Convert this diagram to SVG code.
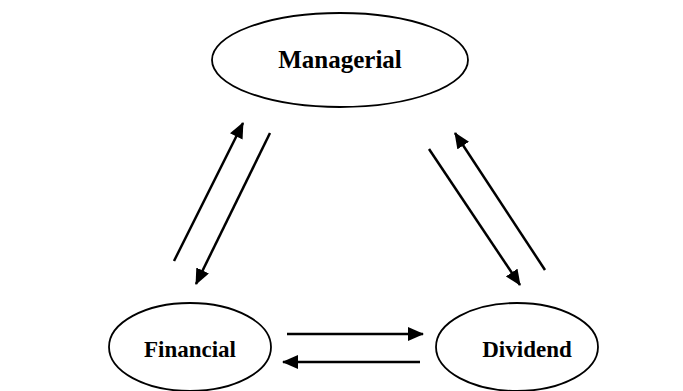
<svg xmlns="http://www.w3.org/2000/svg" width="683" height="391" viewBox="0 0 683 391">
<defs>
<marker id="ah" markerUnits="userSpaceOnUse" markerWidth="16" markerHeight="14" refX="15" refY="7" orient="auto">
<path d="M0,0 L16,7 L0,14 Z" fill="#000"/>
</marker>
<style>
.node ellipse{fill:#fff;stroke:#000;stroke-width:1.8}
.node text{font-family:"Liberation Serif","Times New Roman",serif;font-weight:bold;font-size:23px;text-anchor:middle;fill:#000}
.node text.big{font-size:25px}
.conn line{stroke:#000;stroke-width:2.5;marker-end:url(#ah)}
</style>
</defs>
<rect width="683" height="391" fill="#fff"/>
<g id="managerial" class="node">
<ellipse cx="340" cy="60" rx="128" ry="47"/>
<text class="big" x="340" y="68">Managerial</text>
</g>
<g id="financial" class="node">
<ellipse cx="190" cy="347" rx="81" ry="44"/>
<text x="190" y="357">Financial</text>
</g>
<g id="dividend" class="node">
<ellipse cx="517" cy="347" rx="81" ry="44"/>
<text x="527" y="357">Dividend</text>
</g>
<g id="connectors" class="conn">
<line x1="174" y1="261" x2="243" y2="123"/>
<line x1="270" y1="133" x2="196" y2="284"/>
<line x1="429" y1="149" x2="520" y2="285"/>
<line x1="545" y1="270" x2="455" y2="133"/>
<line x1="287" y1="334" x2="423" y2="334"/>
<line x1="420" y1="362" x2="283" y2="362"/>
</g>
</svg>
